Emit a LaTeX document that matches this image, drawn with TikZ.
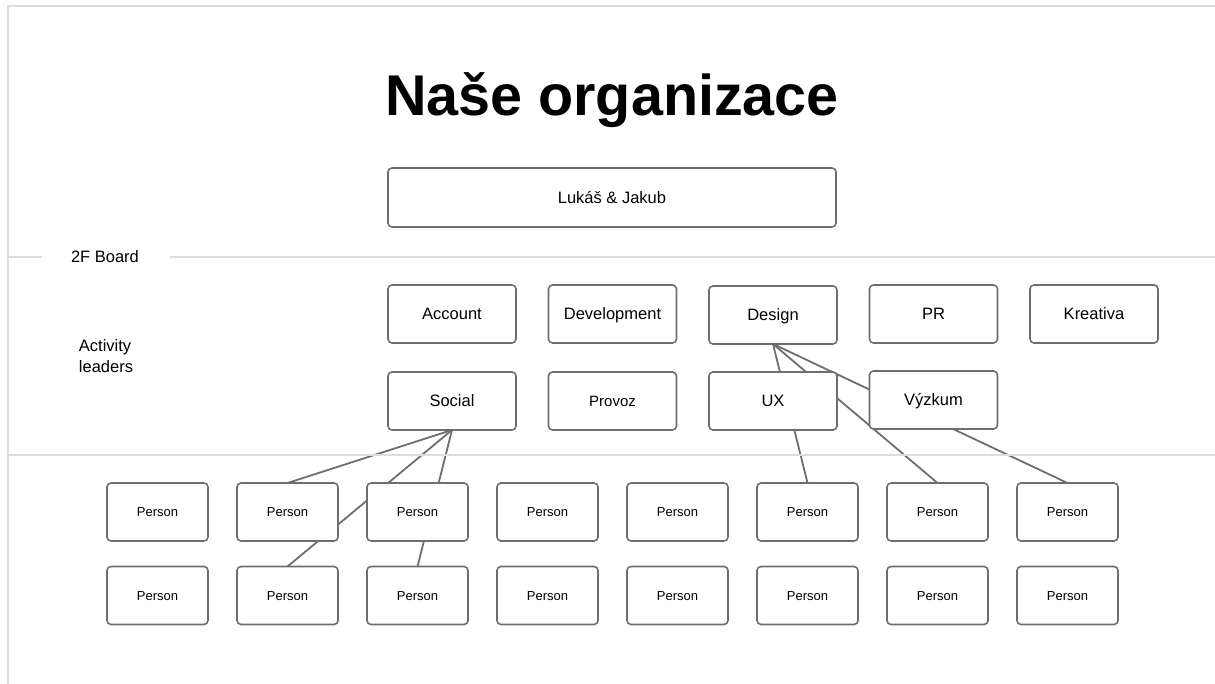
\documentclass[tikz,border=0pt]{standalone}
\usepackage{fontspec}
\setmainfont{Liberation Sans}
\usepackage{tikz}
\usetikzlibrary{positioning,backgrounds}
\definecolor{Frame}{HTML}{DDDDDD}
\definecolor{Edge}{HTML}{6E6E6E}

\begin{document}
\begin{tikzpicture}[x=1pt,y=-1pt,node distance=29pt and 32.5pt,
box/.style={draw=Edge,line width=1.6pt,rounded corners=4pt,fill=white,minimum width=128pt,minimum height=58pt,inner sep=0pt,outer sep=0pt,text height=11.8pt,text depth=0pt,font=\fontsize{16.5}{20}\selectfont},
person/.style={box,minimum width=101pt,text height=9.3pt,font=\fontsize{13}{16}\selectfont},
sep/.style={Frame,line width=2pt},
link/.style={Edge,line width=1.8pt}]
\useasboundingbox (0,0) rectangle (1215,684);
% frame and the two bands
\draw[sep] (8,684) -- (8,6) -- (1215,6);
\node[font=\fontsize{16.5}{20}\selectfont] (board) at (105,257) {2F Board};
\coordinate (s1) at (8,257);
\coordinate (s2) at (1215,257);
\draw[sep] (s1) -- (42,257);
\draw[sep] (170,257) -- (s2);
\draw[sep] (8,455) -- (1215,455);
\node[align=left,font=\fontsize{16.5}{21}\selectfont] (act) at (106,356) {Activity\\leaders};

\node[font=\bfseries\fontsize{57.5}{64}\selectfont] (title) at (612,100) {Naše organizace};
\node[box,minimum width=448pt,minimum height=59pt] (owners) at (612,197.5) {Lukáš \& Jakub};

% activity leaders
\node[box] (account) at (452,314) {Account};
\node[box,right=of account] (dev) {Development};
\node[box,right=of dev,yshift=-1pt] (design) {Design};
\node[box,right=of dev,xshift=160.5pt] (pr) {PR};
\node[box,right=of pr] (krea) {Kreativa};
\node[box,below=of account] (social) {Social};
\node[box,below=of dev,text height=10.7pt,font=\fontsize{15}{18}\selectfont] (provoz) {Provoz};
\node[box,below=of design,yshift=1pt] (ux) {UX};
\node[box,below=of pr,yshift=1pt] (vyzkum) {Výzkum};

% people
\foreach \i in {1,...,8}{
  \node[person] (pa\i) at (27.5+130*\i,512) {Person};
  \node[person] (pb\i) at (27.5+130*\i,595.5) {Person};
}

\begin{pgfonlayer}{background}
\foreach \u/\v in {social/pa2,social/pb2,social/pb3,design/pa6,design/pa7,design/pa8}{\draw[link] (\u.south)--(\v.north);}
\end{pgfonlayer}
\end{tikzpicture}
\end{document}
